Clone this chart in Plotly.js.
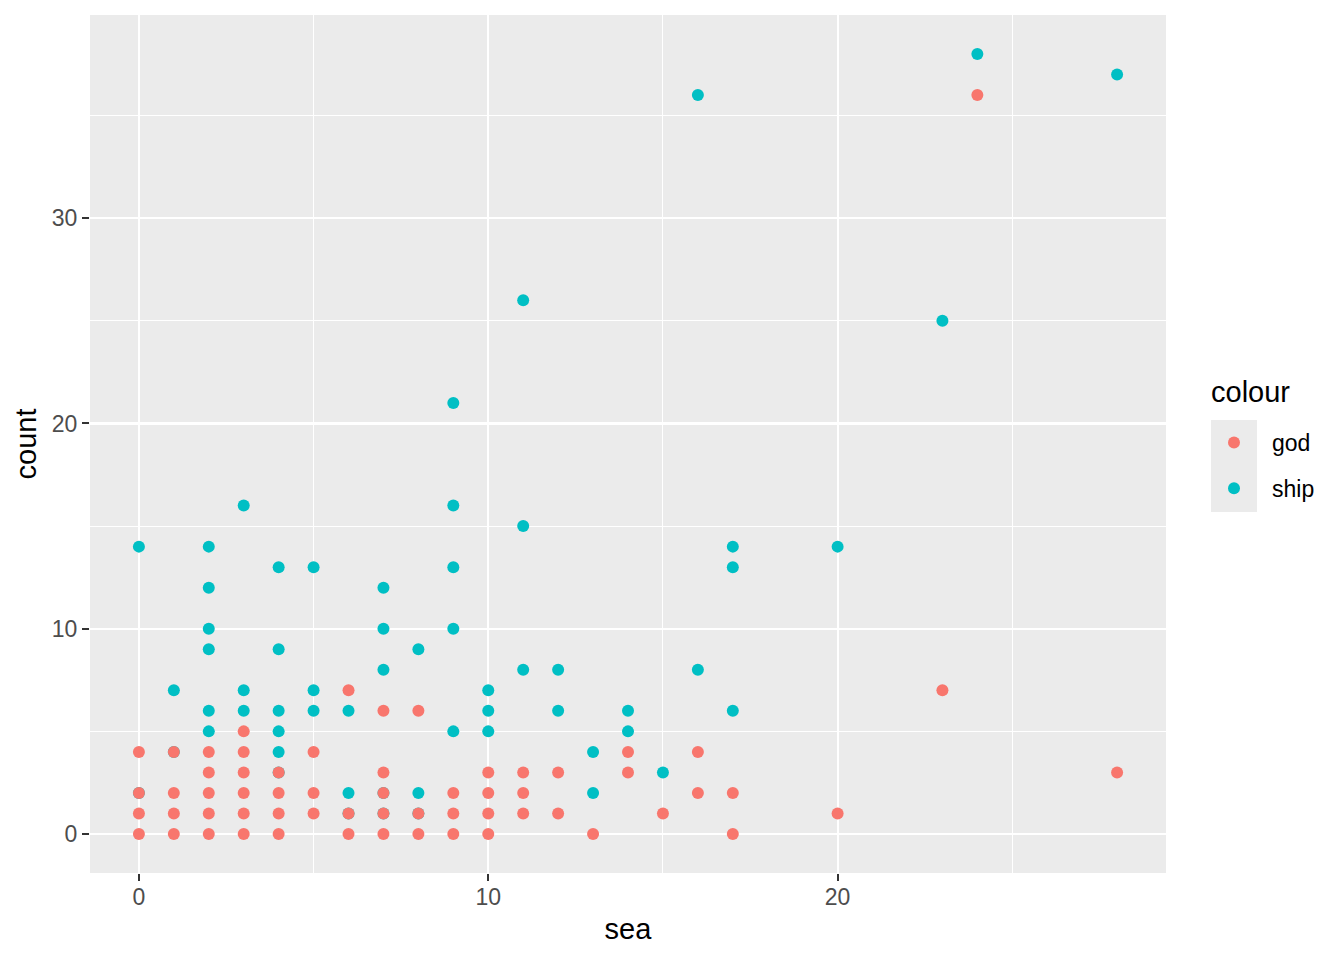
<!DOCTYPE html>
<html>
<head>
<meta charset="utf-8">
<script src="https://cdn.plot.ly/plotly-3.0.1.min.js"></script>
<style>html,body{margin:0;padding:0;background:#fff;}#chart{width:1344px;height:960px;}</style>
</head>
<body>
<div id="chart"></div>
<script>
// god series
var godSea   = [0,0,0,0, 1,1,1,1, 2,2,2,2,2, 3,3,3,3,3,3, 4,4,4,4, 5,5,5, 6,6,6, 7,7,7,7,7, 8,8,8, 9,9,9, 10,10,10,10, 11,11,11, 12,12, 13, 14,14, 15, 16,16, 17,17, 20, 23, 24, 28];
var godCount = [4,2,1,0, 4,2,1,0, 4,3,2,1,0, 5,4,3,2,1,0, 3,2,1,0, 4,2,1, 7,1,0, 6,3,2,1,0, 6,1,0, 2,1,0, 3,2,1,0, 3,2,1, 3,1, 0, 4,3, 1, 4,2, 2,0, 1, 7, 36, 3];
// ship series
var shipSea   = [0,0, 1,1, 2,2,2,2,2,2, 3,3,3, 4,4,4,4,4,4, 5,5,5, 6,6,6, 7,7,7,7,7, 8,8,8, 9,9,9,9,9, 10,10,10, 11,11,11, 12,12, 13,13, 14,14, 15, 16,16, 17,17,17, 20, 23, 24, 28];
var shipCount = [14,2, 7,4, 14,12,10,9,6,5, 16,7,6, 13,9,6,5,4,3, 13,7,6, 6,2,1, 12,10,8,2,1, 9,2,1, 21,16,13,10,5, 7,6,5, 26,15,8, 8,6, 4,2, 6,5, 3, 36,8, 14,13,6, 14, 25, 38, 37];

var seriesNames = ['god', 'ship'];
var legendTitle = 'colour';
var xTicks = [0, 10, 20];
var yTicks = [0, 10, 20, 30];

var FONT = 'Liberation Sans, Arial, Helvetica, sans-serif';

var traces = [
  {x: shipSea, y: shipCount, name: seriesNames[1], type: 'scatter', mode: 'markers',
   marker: {color: '#00BFC4', size: 12}, legendrank: 2, legendgroup: 's', cliponaxis: false},
  {x: godSea, y: godCount, name: seriesNames[0], type: 'scatter', mode: 'markers',
   marker: {color: '#F8766D', size: 12}, legendrank: 1, legendgroup: 'g', cliponaxis: false}
];

var W = 1344, H = 960, L = 90, R = 1166, T = 15, B = 873;
function px(x){ return (x - L) / (R - L); }
function py(y){ return (B - y) / (B - T); }

var layout = {
  width: W, height: H,
  margin: {l: L, r: W - R, t: T, b: H - B, pad: 0},
  paper_bgcolor: '#FFFFFF',
  plot_bgcolor: '#EBEBEB',
  font: {family: FONT, color: '#000'},
  showlegend: true,
  xaxis: {
    range: [-1.4, 29.4], tickvals: xTicks, ticktext: xTicks.map(String),
    showgrid: true, gridcolor: '#FFFFFF', gridwidth: 2.2, zeroline: false,
    minor: {tick0: 0, dtick: 5, showgrid: true, gridcolor: '#FFFFFF', gridwidth: 1.1, ticks: ''},
    ticks: 'outside', ticklen: 7, tickwidth: 2, tickcolor: '#333333',
    tickfont: {family: FONT, size: 23, color: '#4D4D4D'}, ticklabelstandoff: -4,
    showline: false,
    title: {text: 'sea', font: {family: FONT, size: 29, color: '#000'}, standoff: 10}
  },
  yaxis: {
    range: [-1.9, 39.9], tickvals: yTicks, ticktext: yTicks.map(String),
    showgrid: true, gridcolor: '#FFFFFF', gridwidth: 2.2, zeroline: false,
    minor: {tick0: 0, dtick: 5, showgrid: true, gridcolor: '#FFFFFF', gridwidth: 1.1, ticks: ''},
    ticks: 'outside', ticklen: 7, tickwidth: 2, tickcolor: '#333333',
    tickfont: {family: FONT, size: 23, color: '#4D4D4D'},
    showline: false,
    title: {text: 'count', font: {family: FONT, size: 29, color: '#000'}, standoff: 6}
  },
  legend: {
    x: px(1196), xanchor: 'left', y: py(421), yanchor: 'top',
    bgcolor: 'rgba(0,0,0,0)', borderwidth: 0,
    font: {family: FONT, size: 23, color: '#000'},
    tracegroupgap: 13, itemsizing: 'constant', itemwidth: 66
  },
  annotations: [
    {text: legendTitle, xref: 'paper', yref: 'paper', x: px(1209), y: py(392), xanchor: 'left', yanchor: 'middle',
     showarrow: false, font: {family: FONT, size: 29, color: '#000'}}
  ],
  shapes: [
    {type: 'rect', xref: 'paper', yref: 'paper', x0: px(1211), x1: px(1257), y0: py(512), y1: py(420),
     fillcolor: '#EBEBEB', line: {width: 0}, layer: 'below'}
  ]
};

Plotly.newPlot('chart', traces, layout, {displayModeBar: false, staticPlot: true});
</script>
</body>
</html>
